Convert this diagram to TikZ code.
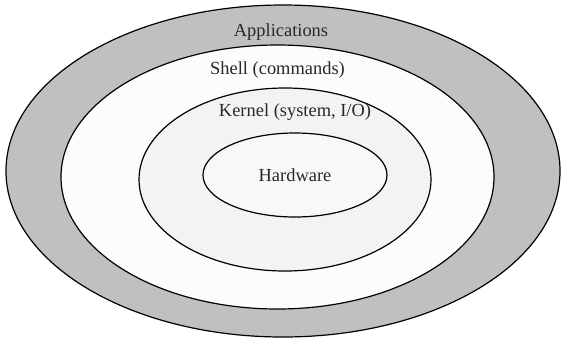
\documentclass[tikz,border=0pt]{standalone}
\usepackage{fontspec}
\setmainfont{Liberation Serif}
\usetikzlibrary{shapes.geometric}
\definecolor{ringgray}{RGB}{192,192,192}
\definecolor{shellfill}{RGB}{252,252,252}
\definecolor{kernelfill}{RGB}{243,243,243}
\definecolor{hwfill}{RGB}{248,248,248}
\definecolor{txt}{RGB}{40,40,40}
\tikzset{
  layer/.style={ellipse, draw=black, line width=1.2bp, inner sep=0pt},
  lbl/.style={font=\fontsize{18.5}{20}\selectfont, text=txt, inner sep=0pt}
}
\begin{document}
\begin{tikzpicture}[x=1bp,y=-1bp]
\useasboundingbox (0,0) rectangle (561,339);
\fill[white] (0,0) rectangle (561,339);
\node[layer, fill=ringgray, minimum width=554bp, minimum height=332bp] (apps) at (283,171) {};
\node[layer, fill=shellfill, minimum width=433bp, minimum height=264bp] (shell) at (277.5,177) {};
\node[layer, fill=kernelfill, minimum width=292bp, minimum height=183bp] (kernel) at (285,179.5) {};
\node[layer, fill=hwfill, minimum width=184bp, minimum height=84bp] (hw) at (295,175) {};
\node[lbl] (appsl) at (281,32) {Applications};
\node[lbl] (shelll) at (277.5,70) {Shell (commands)};
\node[lbl] (kernell) at (295,112) {Kernel (system, I/O)};
\node[lbl] (hwl) at (295,175) {Hardware};
\end{tikzpicture}
\end{document}
